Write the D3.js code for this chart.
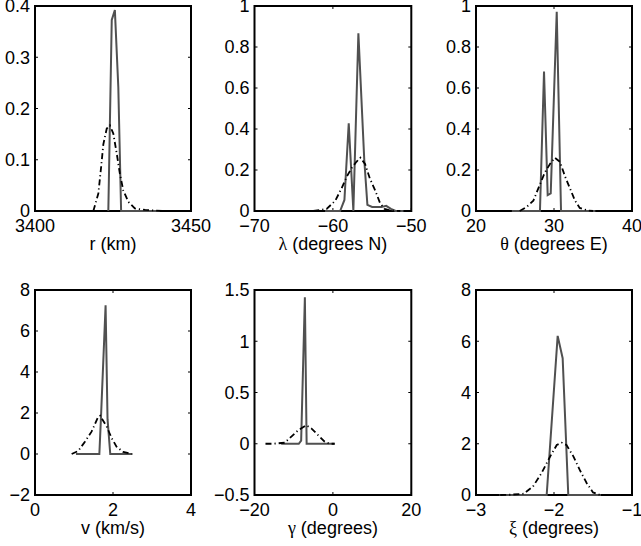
<!DOCTYPE html>
<html><head><meta charset="utf-8">
<script src="https://cdn.jsdelivr.net/npm/d3@7"></script>
<style>
body{margin:0;background:#fff}
text{font-family:"Liberation Sans",Arial,Helvetica,sans-serif;fill:#000}
</style>
</head><body>
<svg id="c" width="641" height="546"></svg>
<script>
// ---- data ----
const rSolid = [[3423.5,0],[3424.6,0.373],[3425.6,0.392],[3426.7,0.242],[3427.6,0],[3440,0]];
const rDash  = [[3418.7,0],[3420.3,0.034],[3421.2,0.086],[3421.9,0.13],[3423,0.161],[3424,0.167],[3425.1,0.151],[3426.2,0.112],[3427.2,0.073],[3428.3,0.04],[3429.9,0.018],[3432,0.005],[3435.3,0.002],[3441.5,0]];

const latSolid = [[-61,0],[-59.08,0],[-58.53,0.054],[-57.98,0.428],[-57.39,0],[-56.75,0.867],[-56.0,0.25],[-55.6,0.03],[-55.0,0.02],[-54.4,0.02],[-53.8,0.02],[-53.2,0.025],[-52.6,0.01],[-52.0,0],[-51,0]];
const latDash  = [[-62.5,0],[-60.8,0.01],[-59.7,0.05],[-58.9,0.11],[-58.2,0.17],[-57.6,0.21],[-57.0,0.24],[-56.5,0.26],[-55.9,0.23],[-55.3,0.16],[-54.6,0.1],[-54.0,0.04],[-53.4,0.01],[-52.7,0.002],[-51.4,0]];

const lonSolid = [[24.6,0],[28.2,0],[28.72,0.68],[29.19,0.078],[29.58,0.086],[30.35,0.972],[30.9,0],[35.3,0]];
const lonDash  = [[25.6,0],[26.5,0.02],[27.35,0.05],[28.2,0.13],[28.85,0.19],[29.5,0.23],[30.1,0.26],[30.77,0.24],[31.4,0.17],[32.05,0.11],[32.7,0.05],[33.3,0.015],[34.4,0.002],[35,0]];

const vSolid = [[1.05,0],[1.65,0],[1.69,1.7],[1.81,7.25],[1.86,1.7],[1.93,0],[2.5,0]];
const vDash  = [[0.94,0],[1.11,0.15],[1.28,0.6],[1.45,1.09],[1.62,1.82],[1.67,1.87],[1.84,1.33],[1.97,0.76],[2.09,0.36],[2.26,0.1],[2.48,0]];

const gSolid = [[-13.2,0],[-8.7,0],[-8.1,0.03],[-7.15,1.43],[-6.7,0],[0.45,0]];
const gDash  = [[-17.2,0],[-15.3,0],[-12.3,0.01],[-10.6,0.07],[-8.9,0.13],[-6.8,0.18],[-5.5,0.15],[-3.8,0.085],[-2.1,0.02],[-0.8,0],[0.45,0]];

const xiSolid = [[-2.7,0],[-2.094,0],[-1.953,6.21],[-1.889,5.34],[-1.817,0],[-1.4,0]];
const xiDash  = [[-2.69,0],[-2.56,0.01],[-2.39,0.05],[-2.27,0.33],[-2.16,0.85],[-2.05,1.5],[-1.965,1.95],[-1.90,2.04],[-1.84,1.95],[-1.75,1.5],[-1.67,0.98],[-1.58,0.46],[-1.50,0.1],[-1.41,0]];

// tick values and labels
const rXTicks = [3400,3450],            rXLabels = ["3400","3450"];
const rYTicks = [0,0.1,0.2,0.3,0.4],    rYLabels = ["0","0.1","0.2","0.3","0.4"];
const latXTicks = [-70,-60,-50],        latXLabels = ["\u221270","\u221260","\u221250"];
const unitYTicks = [0,0.2,0.4,0.6,0.8,1], unitYLabels = ["0","0.2","0.4","0.6","0.8","1"];
const lonXTicks = [20,30,40],           lonXLabels = ["20","30","40"];
const vXTicks = [0,2,4],                vXLabels = ["0","2","4"];
const vYTicks = [-2,0,2,4,6,8],         vYLabels = ["\u22122","0","2","4","6","8"];
const gXTicks = [-20,0,20],             gXLabels = ["\u221220","0","20"];
const gYTicks = [-0.5,0,0.5,1,1.5],     gYLabels = ["\u22120.5","0","0.5","1","1.5"];
const xiXTicks = [-3,-2,-1],            xiXLabels = ["\u22123","\u22122","\u22121"];
const xiYTicks = [0,2,4,6,8],           xiYLabels = ["0","2","4","6","8"];

const panels = [
  {sym:"r", rest:" (km)", greek:false, xd:[3400,3450], yd:[0,0.4], xt:rXTicks, xl:rXLabels, yt:rYTicks, yl:rYLabels, solid:rSolid, dash:rDash, col:0, row:0},
  {sym:"\u03bb", rest:" (degrees N)", greek:true, xd:[-70,-50], yd:[0,1], xt:latXTicks, xl:latXLabels, yt:unitYTicks, yl:unitYLabels, solid:latSolid, dash:latDash, col:1, row:0},
  {sym:"\u03b8", rest:" (degrees E)", greek:true, xd:[20,40], yd:[0,1], xt:lonXTicks, xl:lonXLabels, yt:unitYTicks, yl:unitYLabels, solid:lonSolid, dash:lonDash, col:2, row:0},
  {sym:"v", rest:" (km/s)", greek:false, xd:[0,4], yd:[-2,8], xt:vXTicks, xl:vXLabels, yt:vYTicks, yl:vYLabels, solid:vSolid, dash:vDash, col:0, row:1},
  {sym:"\u03b3", rest:" (degrees)", greek:true, xd:[-20,20], yd:[-0.5,1.5], xt:gXTicks, xl:gXLabels, yt:gYTicks, yl:gYLabels, solid:gSolid, dash:gDash, col:1, row:1},
  {sym:"\u03be", rest:" (degrees)", greek:true, xd:[-3,-1], yd:[0,8], xt:xiXTicks, xl:xiXLabels, yt:xiYTicks, yl:xiYLabels, solid:xiSolid, dash:xiDash, col:2, row:1}
];

// ---- layout ----
const colX = [[35,191],[254.5,411.3],[476,632]];
const rowY = [[6,211],[290,495]];
const FS = 18, TICK = 3;

const svg = d3.select("#c");

panels.forEach(p => {
  const [x0,x1] = colX[p.col], [y0,y1] = rowY[p.row];
  const x = d3.scaleLinear().domain(p.xd).range([x0,x1]);
  const y = d3.scaleLinear().domain(p.yd).range([y1,y0]);
  const g = svg.append("g");

  // frame
  g.append("rect").attr("x",x0).attr("y",y0).attr("width",x1-x0).attr("height",y1-y0)
    .attr("fill","none").attr("stroke","#000").attr("stroke-width",2);

  // inward ticks (all four sides)
  p.xt.forEach(v => {
    const xx = x(v);
    g.append("line").attr("x1",xx).attr("x2",xx).attr("y1",y1).attr("y2",y1-TICK).attr("stroke","#000");
    g.append("line").attr("x1",xx).attr("x2",xx).attr("y1",y0).attr("y2",y0+TICK).attr("stroke","#000");
  });
  p.yt.forEach(v => {
    const yy = y(v);
    g.append("line").attr("x1",x0).attr("x2",x0+TICK).attr("y1",yy).attr("y2",yy).attr("stroke","#000");
    g.append("line").attr("x1",x1).attr("x2",x1-TICK).attr("y1",yy).attr("y2",yy).attr("stroke","#000");
  });

  // tick labels
  p.xt.forEach((v,i) => {
    g.append("text").attr("x",x(v)).attr("y",y1+21).attr("text-anchor","middle")
      .attr("font-size",FS).text(p.xl[i]);
  });
  p.yt.forEach((v,i) => {
    g.append("text").attr("x",x0-5).attr("y",y(v)).attr("dy","0.36em").attr("text-anchor","end")
      .attr("font-size",FS).text(p.yl[i]);
  });

  // axis label
  const t = g.append("text").attr("x",(x0+x1)/2).attr("y",y1+39).attr("text-anchor","middle").attr("font-size",FS);
  t.append("tspan").style("font-family", p.greek ? "'Liberation Serif','DejaVu Serif',serif" : null).text(p.sym);
  t.append("tspan").text(p.rest);

  const line = d3.line().x(d => x(d[0])).y(d => y(d[1]));
  g.append("path").attr("d", line(p.solid)).attr("fill","none")
    .attr("stroke","#505050").attr("stroke-width",2).attr("stroke-linejoin","miter");
  g.append("path").attr("d", line(p.dash)).attr("fill","none")
    .attr("stroke","#000").attr("stroke-width",1.8).attr("stroke-dasharray","6,3,1.2,3");
});
</script>
</body></html>
